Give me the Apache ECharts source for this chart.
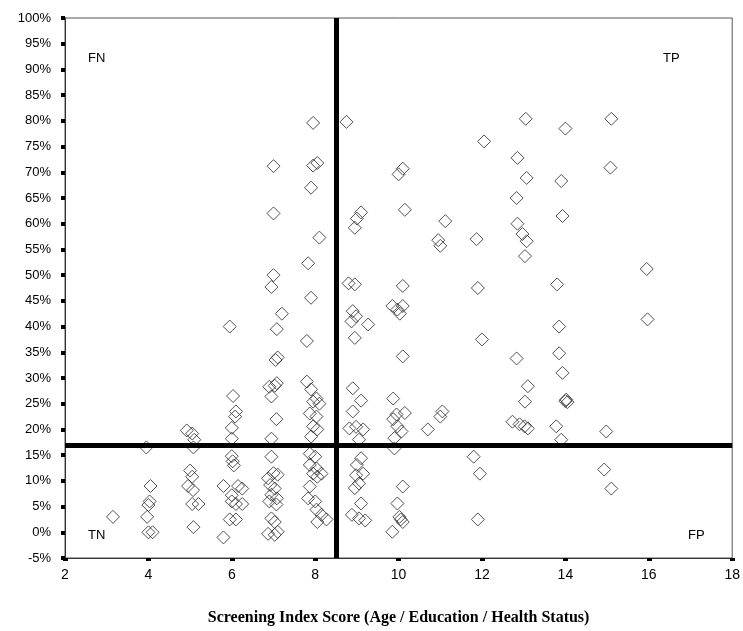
<!DOCTYPE html>
<html>
<head>
<meta charset="utf-8">
<script src="https://cdn.jsdelivr.net/npm/echarts@6/dist/echarts.min.js"></script>
<style>
  html, body { margin: 0; padding: 0; background: #fff; }
  #chart { width: 743px; height: 631px; }
</style>
</head>
<body>
<div id="chart"></div>
<script>
// screening index score (x) vs. percentage (y)
const scores = [
  3.15, 3.95, 4.05, 4.03, 4.0, 3.97, 4.0, 4.1,
  4.92, 5.05, 5.1, 5.08, 5.0, 5.05, 4.95, 5.07, 5.05, 5.2, 5.08,
  5.95, 6.03, 6.1, 6.08, 6.0, 6.0, 6.0, 6.02, 6.05, 5.8, 6.15, 6.25, 6.0, 6.0, 6.1, 6.25, 5.95, 6.1, 5.8,
  7.0, 7.0, 7.0, 6.95, 7.2, 7.08, 7.1, 7.05, 7.03, 6.9, 7.08, 6.95, 7.07, 6.95, 6.95,
  7.0, 6.87, 7.1, 6.92, 7.03, 6.95, 7.08, 6.9, 7.07, 6.95, 7.03, 6.87, 7.03, 7.1,
  7.95, 8.05, 7.95, 7.9, 8.1, 7.83, 7.9, 7.8, 7.8, 7.9, 8.03, 7.95, 8.1, 7.87, 8.03, 7.95, 8.05, 7.9,
  7.87, 8.0, 7.87, 8.03, 7.95, 8.15, 8.05, 7.87, 7.83, 8.0, 8.03, 8.15, 8.27, 8.05,
  8.75, 9.1, 9.0, 8.95, 8.8, 8.95, 8.9, 8.98, 8.87, 9.27, 8.95,
  8.9, 9.1, 8.9, 8.82, 8.98, 9.15, 9.05, 9.1, 9.0, 9.15, 8.98, 9.05, 8.95, 9.1, 8.88, 9.05, 9.2,
  10.1, 10.0, 10.15, 10.1, 9.85, 9.97, 10.1, 10.03, 10.1, 9.87, 9.95, 10.15, 9.87, 9.97, 10.07, 9.9, 9.9,
  10.1, 9.97, 10.02, 10.1, 10.05, 9.85,
  11.12, 10.95, 11.0, 10.7, 11.0, 11.05,
  12.05, 11.87, 11.9, 12.0, 11.8, 11.95, 11.9,
  13.05, 12.85, 13.07, 12.83, 12.85, 12.97, 13.07, 13.03, 12.83, 13.1, 13.03, 12.73, 12.9, 13.02, 13.1,
  14.0, 13.9, 13.93, 13.8, 13.85, 13.85, 13.93, 14.0, 14.05, 14.02, 13.78, 13.9,
  15.1, 15.08, 14.98, 14.93, 15.1, 15.95, 15.97
];
const percents = [
  3, 16.5, 9, 6, 5.3, 3, 0, 0,
  19.8, 19.2, 18, 16.5, 12, 10.8, 9, 8.2, 5.5, 5.5, 1,
  40, 26.5, 23.5, 22.5, 20.3, 18.2, 14.8, 13.8, 13, 9, 9, 8.5, 7.2, 6, 5.5, 5.5, 2.5, 2.5, -1,
  71.2, 62, 50, 47.7, 42.5, 39.5, 34, 33.5, 28.5, 28.3, 29, 26.4, 22, 18.2, 14.7,
  11.5, 10.5, 11.2, 9.2, 8.5, 7.3, 6.6, 6, 5.4, 2.7, 2, -0.3, -0.5, 0.1,
  79.6, 71.8, 71.3, 67, 57.3, 52.3, 45.6, 37.2, 29.3, 27.8, 26, 25.4, 25, 23.1, 22.5, 20.6, 20, 18.6,
  15.3, 14.7, 13.1, 12.4, 11.4, 11.4, 10.8, 8.9, 6.6, 6, 4.4, 3.4, 2.5, 2,
  79.8, 62.2, 61, 59.2, 48.4, 48.2, 43, 42, 41, 40.4, 37.8,
  28, 25.6, 23.5, 20.2, 20.5, 20, 18, 14.4, 13.1, 11.4, 11.1, 9.5, 8.6, 5.6, 3.4, 2.7, 2.3,
  70.7, 69.6, 62.7, 47.9, 44, 43.3, 44, 42.5, 34.2, 26, 22.9, 23.2, 22, 20.6, 19.6, 18.3, 16.3,
  8.9, 5.6, 3, 2, 2.5, 0.1,
  60.5, 56.8, 55.7, 20, 22.5, 23.5,
  76, 57, 47.5, 37.5, 14.7, 11.4, 2.5,
  80.4, 72.8, 68.9, 65, 60, 58, 56.6, 53.7, 33.8, 28.4, 25.4, 21.5, 21, 20.6, 20.2,
  78.5, 68.3, 61.5, 48.2, 40, 34.8, 31, 25.5, 25.3, 25.8, 20.6, 18,
  80.4, 70.9, 19.6, 12.2, 8.5, 51.2, 41.4
];
const xTicks = [2, 18, 2];      // min, max, interval
const yTicks = [-5, 100, 5];
const scoreCutoff = 8.5;
const percentCutoff = 17;
const quadrants = ['FN', 'TP', 'TN', 'FP'];

const points = scores.map((s, i) => [s, percents[i]]);

const chart = echarts.init(document.getElementById('chart'));
const labelFont = { fontFamily: 'Liberation Sans, Arial, sans-serif', fontSize: 13, fill: '#000' };

chart.setOption({
  animation: false,
  backgroundColor: '#fff',
  grid: {
    left: 65,
    right: 10,
    top: 18,
    bottom: 73,
    show: true,
    borderColor: '#555',
    borderWidth: 1
  },
  xAxis: {
    type: 'value',
    min: xTicks[0],
    max: xTicks[1],
    interval: xTicks[2],
    name: 'Screening Index Score (Age / Education / Health Status)',
    nameLocation: 'middle',
    nameGap: 52,
    nameTextStyle: {
      fontFamily: 'Liberation Serif, Times New Roman, serif',
      fontWeight: 'bold',
      fontSize: 16,
      color: '#000'
    },
    axisLine: { onZero: false, lineStyle: { color: '#333', width: 1 } },
    axisTick: { show: true, length: 3, lineStyle: { color: '#000', width: 5 } },
    axisLabel: {
      color: '#000',
      fontFamily: 'Liberation Sans, Arial, sans-serif',
      fontSize: 14,
      margin: 10
    },
    splitLine: { show: false }
  },
  yAxis: {
    type: 'value',
    min: yTicks[0],
    max: yTicks[1],
    interval: yTicks[2],
    axisLine: { onZero: false, lineStyle: { color: '#333', width: 1 } },
    axisTick: { show: true, length: 4, lineStyle: { color: '#000', width: 4 } },
    axisLabel: {
      color: '#000',
      fontFamily: 'Liberation Sans, Arial, sans-serif',
      fontSize: 13,
      margin: 14,
      formatter: '{value}%'
    },
    splitLine: { show: false }
  },
  series: [{
    type: 'scatter',
    symbol: 'diamond',
    symbolSize: 13,
    data: points,
    itemStyle: {
      color: 'rgba(255,255,255,0)',
      borderColor: '#333',
      borderWidth: 1,
      opacity: 0.85
    },
    markLine: {
      silent: true,
      symbol: 'none',
      label: { show: false },
      lineStyle: { color: '#000', width: 5, type: 'solid' },
      data: [
        { xAxis: scoreCutoff },
        { yAxis: percentCutoff }
      ]
    }
  }],
  graphic: [
    { type: 'text', left: 88, top: 52, style: Object.assign({ text: quadrants[0] }, labelFont) },
    { type: 'text', left: 663, top: 52, style: Object.assign({ text: quadrants[1] }, labelFont) },
    { type: 'text', left: 88, top: 529, style: Object.assign({ text: quadrants[2] }, labelFont) },
    { type: 'text', left: 688, top: 529, style: Object.assign({ text: quadrants[3] }, labelFont) }
  ]
});
</script>
</body>
</html>
